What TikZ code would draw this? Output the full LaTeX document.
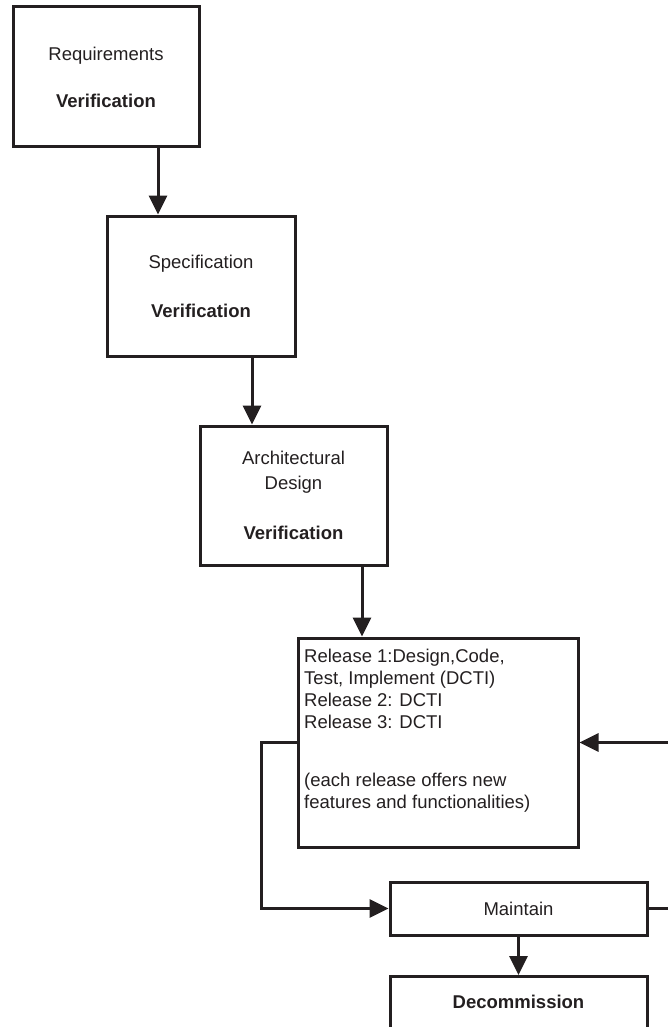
\documentclass[tikz,border=0pt]{standalone}
\usepackage{fontspec}
\setmainfont{Liberation Sans}
\usetikzlibrary{arrows.meta}
\definecolor{ink}{RGB}{35,31,32}
\begin{document}
\begin{tikzpicture}[x=1pt,y=-1pt,
  box/.style={draw=ink,line width=3pt,rectangle,inner sep=0pt,align=center,text=ink,
    font=\fontsize{18.5}{22}\selectfont},
  lbl/.style={inner sep=0pt,text=ink,font=\fontsize{18.5}{22}\selectfont},
  arr/.style={draw=ink,line width=3pt,-{Triangle[width=18pt,length=19pt]}},
  conn/.style={draw=ink,line width=3pt}]
\useasboundingbox (0,0) rectangle (668,1027);
\clip (0,0) rectangle (668,1027);
\node[box,minimum width=186pt,minimum height=140pt] (req) at (106,77)
  {Requirements\\[25pt]\textbf{Verification}};
\node[box,minimum width=188pt,minimum height=140pt] (spec) at (201,286)
  {Specification\\[27pt]\textbf{Verification}};
\node[box,minimum width=187pt,minimum height=139pt] (arch) at (293.5,495.5)
  {Architectural\\[3pt]Design\\[28pt]\textbf{Verification}};
\node[box,minimum width=280pt,minimum height=209pt] (rel) at (438,742.5) {};
\node[lbl,anchor=north west,align=left] (reltext) at (304,648.5)
  {Release 1:Design,Code,\\Test, Implement (DCTI)\\Release 2: DCTI\\Release 3: DCTI\\[36pt](each release offers new\\features and functionalities)};
\node[box,minimum width=257pt,minimum height=53pt] (maint) at (518.5,908.5) {Maintain};
\node[box,minimum width=257pt,minimum height=170pt,anchor=north] (decom) at (518.5,975) {};
\node[lbl,font=\fontsize{18.5}{22}\selectfont\bfseries] (decomtext) at (518.5,1002) {Decommission};
\draw[arr] (158,0 |- req.south) -- (158,0 |- spec.north);
\draw[arr] (252,0 |- spec.south) -- (252,0 |- arch.north);
\draw[arr] (362,0 |- arch.south) -- (362,0 |- rel.north);
\draw[arr] (rel.west) -- ++(-35,0) |- (maint.west);
\draw[arr] (maint.east) -- ++(60,0) |- (rel.east);
\draw[arr] (maint.south) -- (decom.north);
\end{tikzpicture}
\end{document}
